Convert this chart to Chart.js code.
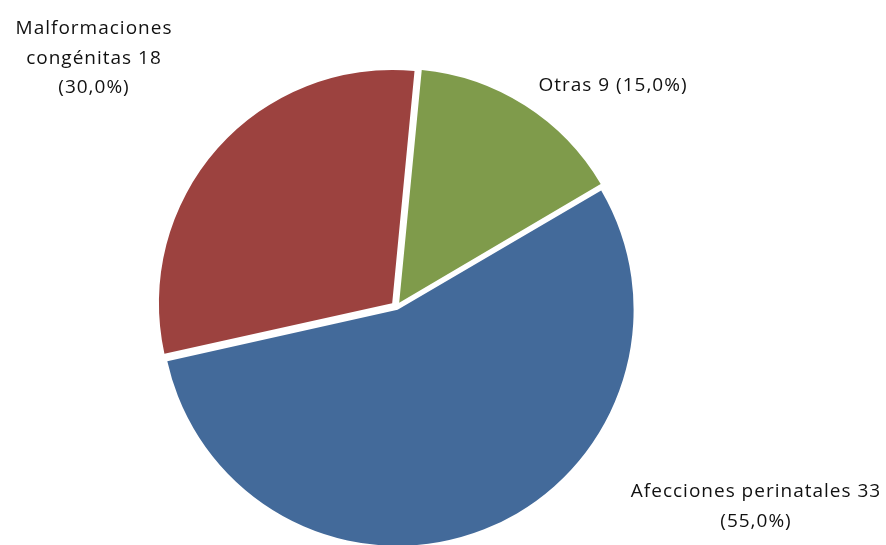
<!DOCTYPE html>
<html lang="es">
  <head>
    <meta charset="UTF-8" />
    <title>Defunciones por causa</title>
    <script src="https://cdn.jsdelivr.net/npm/chart.js"></script>
    <style>
      html, body { margin: 0; padding: 0; background: #fff; }
      #wrap { width: 886px; height: 545px; }
    </style>
  </head>
  <body>
    <div id="wrap"><canvas id="pieChart" width="886" height="545"></canvas></div>

    <script>
      // datos (orden de las porciones, empezando arriba en sentido horario)
      const categories = ["Otras", "Afecciones perinatales", "Malformaciones congénitas"];
      const values = [9, 33, 18];
      const colors = ["#7f9b4b", "#436a9a", "#9c423f"];

      // posicion de cada etiqueta (centro x, linea base y, ancho maximo)
      const labelSpots = [
        { x: 613, y: 91, w: 200 },
        { x: 756, y: 497, w: 270 },
        { x: 94, y: 34, w: 176 },
      ];

      const total = values.reduce((a, b) => a + b, 0);
      function pct(v) {
        return (v / total * 100).toFixed(1).replace(".", ",") + "%";
      }

      // etiquetas fuera de la torta, con salto de linea
      const outsideLabels = {
        id: "outsideLabels",
        afterDatasetsDraw(chart) {
          const ctx = chart.ctx;
          ctx.save();
          ctx.font = "19px 'Open Sans', sans-serif";
          ctx.letterSpacing = "1px";
          ctx.fillStyle = "#111";
          ctx.textAlign = "center";
          ctx.textBaseline = "alphabetic";
          categories.forEach((name, i) => {
            const spot = labelSpots[i];
            const words = (name + " " + values[i] + " (" + pct(values[i]) + ")").split(" ");
            const lines = [];
            let cur = "";
            words.forEach((w) => {
              const test = cur ? cur + " " + w : w;
              if (cur && ctx.measureText(test).width > spot.w) {
                lines.push(cur);
                cur = w;
              } else {
                cur = test;
              }
            });
            lines.push(cur);
            lines.forEach((ln, k) => ctx.fillText(ln, spot.x, spot.y + k * 29.5));
          });
          ctx.restore();
        },
      };

      const ctx = document.getElementById("pieChart").getContext("2d");
      new Chart(ctx, {
        type: "pie",
        data: {
          labels: categories,
          datasets: [
            {
              data: values,
              backgroundColor: colors,
              borderWidth: 0,
              offset: [20, 12, 23],
              clip: false,
            },
          ],
        },
        options: {
          responsive: false,
          animation: false,
          rotation: 5.5,
          radius: 233,
          layout: { padding: { left: 0, right: 93, top: 69, bottom: 0 } },
          plugins: {
            legend: { display: false },
            tooltip: { enabled: false },
          },
        },
        plugins: [outsideLabels],
      });
    </script>
  </body>
</html>
